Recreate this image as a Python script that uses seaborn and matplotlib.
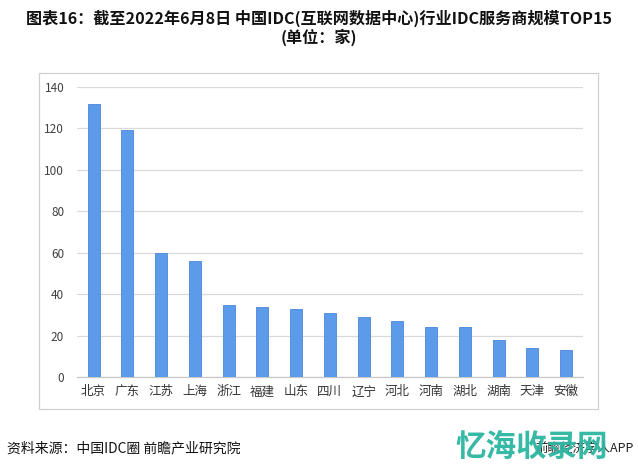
import matplotlib
matplotlib.use("Agg")
import matplotlib.pyplot as plt
import seaborn as sns
import pandas as pd
from matplotlib.patches import Rectangle

provinces = ["北京", "广东", "江苏", "上海", "浙江", "福建", "山东", "四川",
             "辽宁", "河北", "河南", "湖北", "湖南", "天津", "安徽"]
counts = [132, 119, 60, 56, 35, 34, 33, 31, 29, 27, 24, 24, 18, 14, 13]
y_ticks = [0, 20, 40, 60, 80, 100, 120, 140]

title_text = "图表16：截至2022年6月8日 中国IDC(互联网数据中心)行业IDC服务商规模TOP15\n(单位：家)"
source_text = "资料来源：中国IDC圈 前瞻产业研究院"
app_text = "前瞻经济学人APP"
mark_text = "忆海收录网"

df = pd.DataFrame({"province": provinces, "count": counts})

sns.set_theme(style="white")
plt.rcParams["font.family"] = ["Noto Sans CJK SC", "DejaVu Sans"]

fig = plt.figure(figsize=(6.38, 4.69), dpi=100)
ax = fig.add_axes([76.7 / 638, 1 - 377 / 469, (583 - 76.7) / 638, (377 - 87) / 469])

sns.barplot(data=df, x="province", y="count", ax=ax, color="#5b9bea",
            width=0.36, saturation=1, edgecolor="#4a86d8", linewidth=0.6, zorder=3)

ax.set_ylim(0, 140)
ax.set_xlim(-0.5, len(provinces) - 0.5)
ax.set_yticks(y_ticks)
ax.set_yticklabels([str(v) for v in y_ticks])
ax.yaxis.grid(True, color="#d9d9d9", linewidth=0.9, zorder=0)
ax.xaxis.grid(False)
for s in ["left", "right", "top"]:
    ax.spines[s].set_visible(False)
ax.spines["bottom"].set_color("#c8c8c8")
ax.spines["bottom"].set_linewidth(0.9)
ax.tick_params(axis="y", length=0, pad=9, labelsize=8.5, labelcolor="#404040")
ax.tick_params(axis="x", length=0, pad=6, labelsize=9, labelcolor="#333333")
ax.set_xlabel("")
ax.set_ylabel("")

# outer frame
fig.patches.append(Rectangle((39.3 / 638, 1 - 408.7 / 469), (598 - 39.3) / 638, (408.7 - 73.3) / 469,
                             transform=fig.transFigure, fill=False, edgecolor="#d0d0d0",
                             linewidth=0.9, zorder=0))

fig.text(319 / 638, 1 - 28 / 469, title_text, ha="center", va="center",
         fontsize=11.6, fontweight="bold", color="#111111", linespacing=1.1)
fig.text(7 / 638, 1 - 448 / 469, source_text, ha="left", va="center",
         fontsize=10, color="#111111")
fig.text(634 / 638, 1 - 448 / 469, app_text, ha="right", va="center",
         fontsize=9, color="#222222")
fig.text(532 / 638, 1 - 447 / 469, mark_text, ha="center", va="center",
         fontsize=22, fontweight="bold", style="italic", color="#2bb5a0", alpha=0.95)

fig.savefig("out.png", dpi=100)
